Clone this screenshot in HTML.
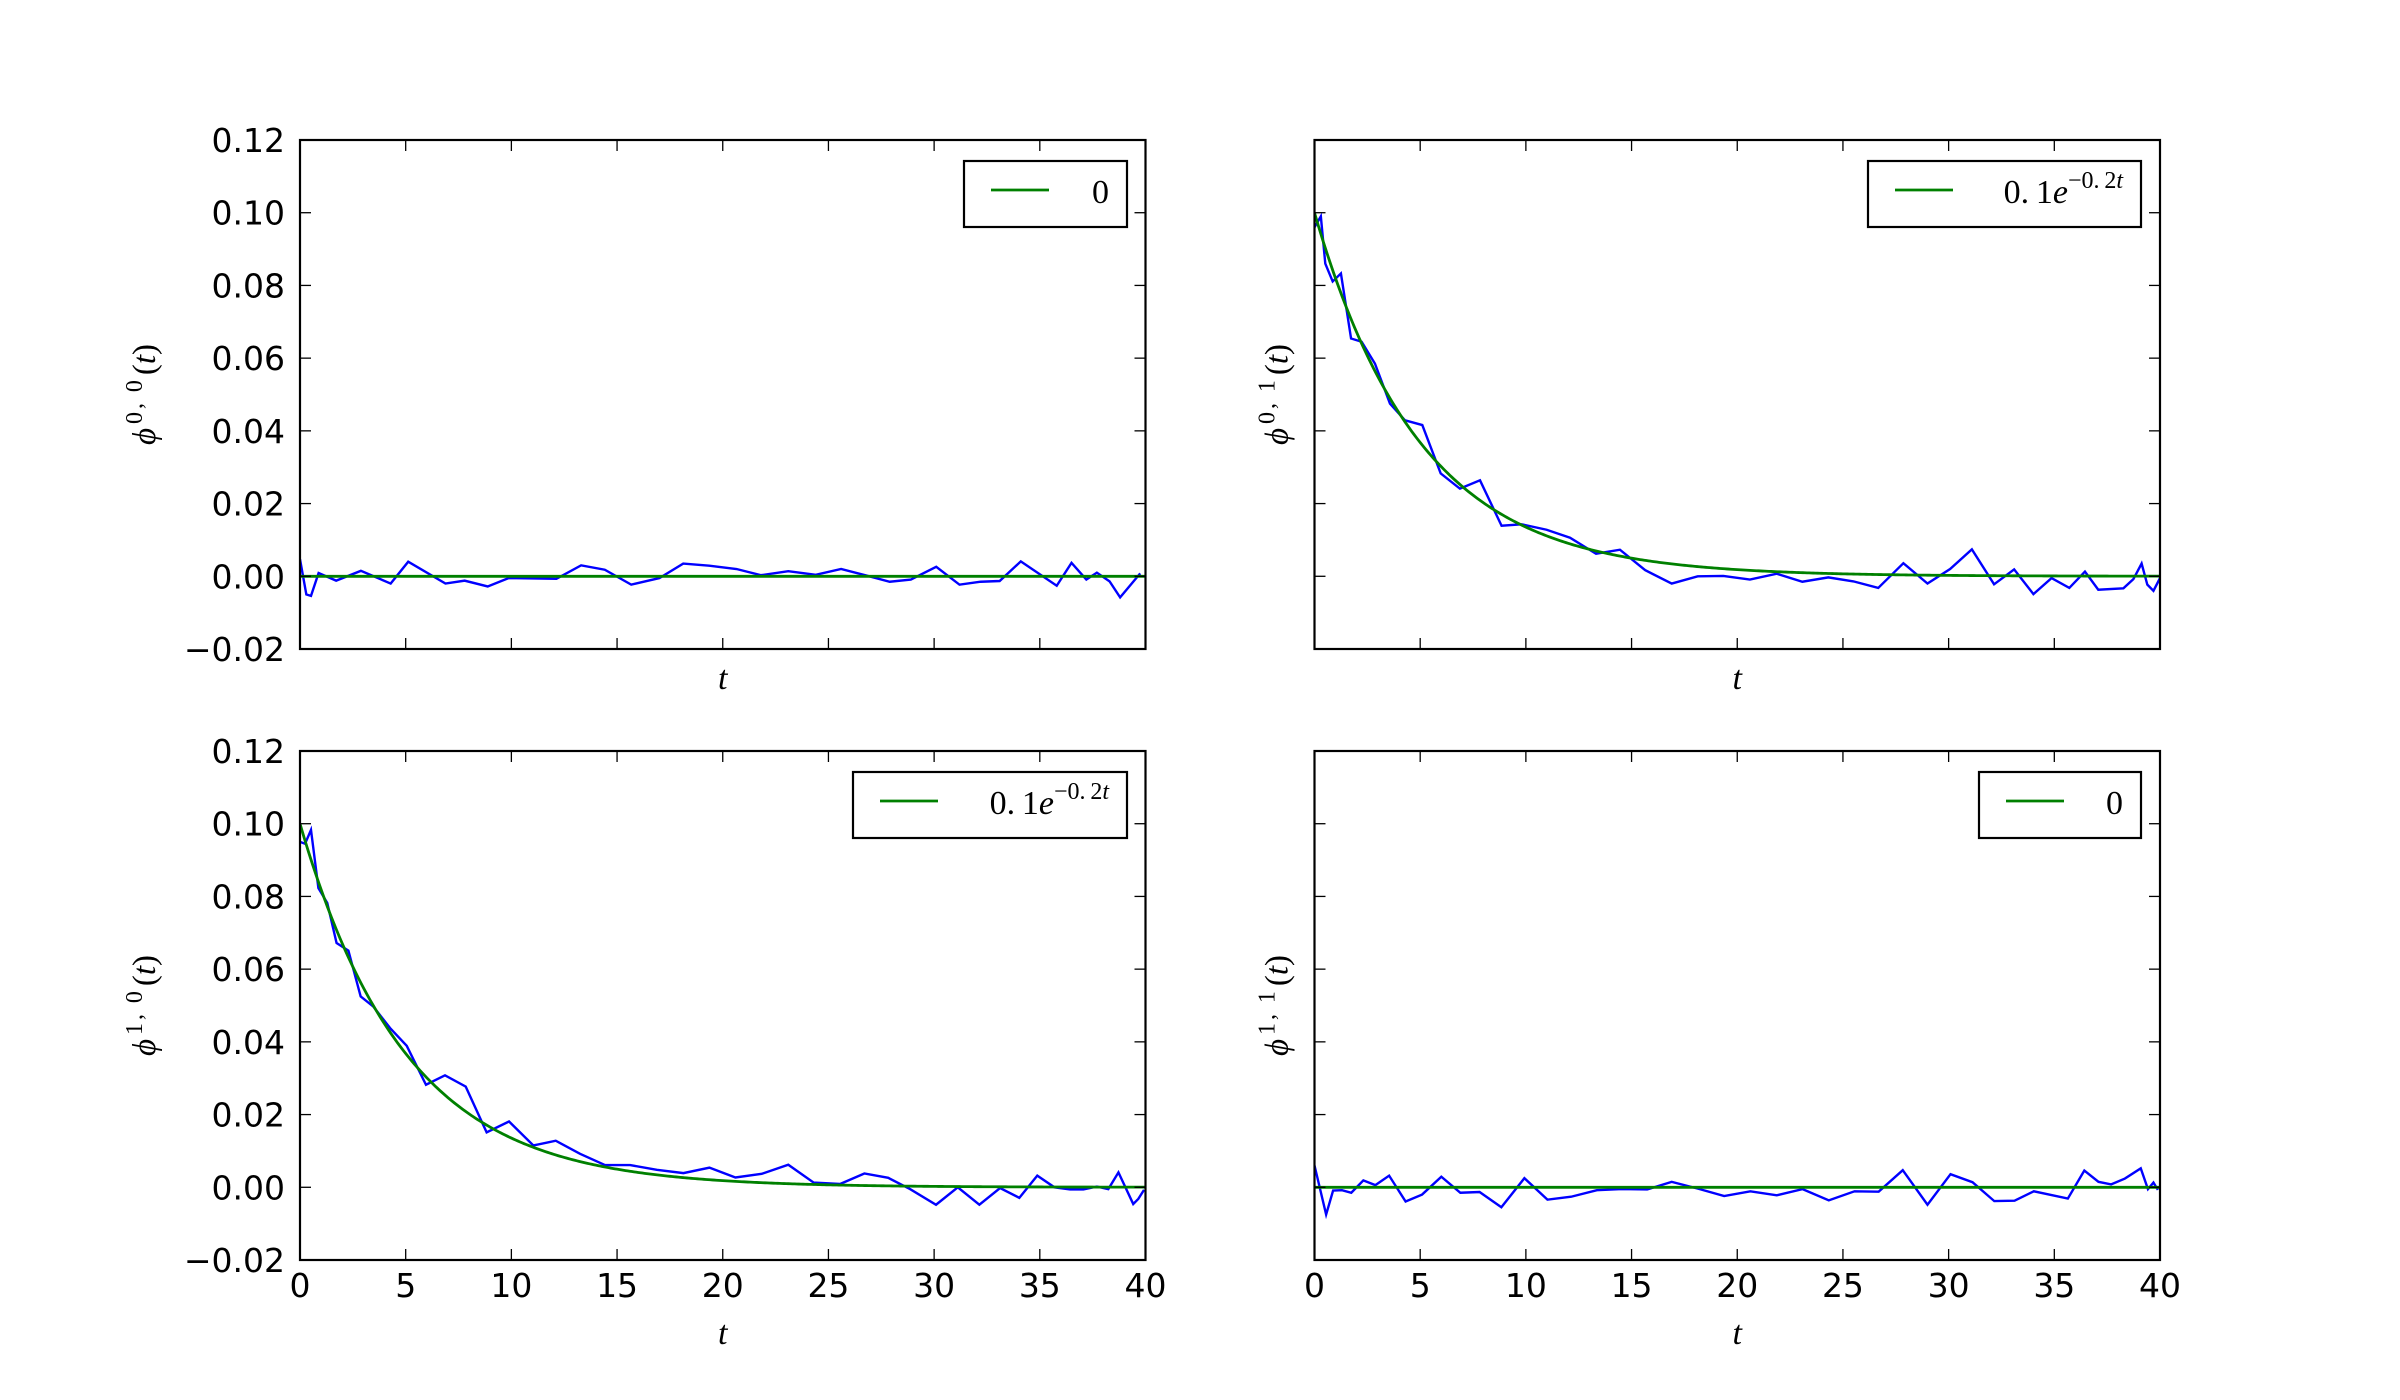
<!DOCTYPE html>
<html><head><meta charset="utf-8"><style>
html,body{margin:0;padding:0;background:#fff;}
svg{display:block;}
</style></head><body>
<svg id="fig" width="2400" height="1400" viewBox="0 0 2400 1400" xmlns="http://www.w3.org/2000/svg"></svg>
<script>
// ---- data ----
const xTicks = [0,5,10,15,20,25,30,35,40];
const yTicks = [-0.02,0,0.02,0.04,0.06,0.08,0.10,0.12];
const yTickLabels = ["\u22120.02","0.00","0.02","0.04","0.06","0.08","0.10","0.12"];
const xTickLabels = ["0","5","10","15","20","25","30","35","40"];

const t00 = [0,0.3,0.52,0.88,1.71,2.88,4.29,5.12,6.88,7.79,8.88,9.87,12.13,13.3,14.42,15.67,17.0,18.13,19.36,20.65,21.8,23.1,24.4,25.6,26.8,27.9,28.9,30.1,31.2,32.2,33.1,34.1,35.8,36.5,37.2,37.7,38.3,38.8,39.75];
const v00 = [0.0047,-0.005,-0.0054,0.0009,-0.0012,0.0015,-0.002,0.004,-0.002,-0.0012,-0.0028,-0.0005,-0.0007,0.003,0.0018,-0.0023,-0.0005,0.0035,0.0029,0.002,0.0003,0.0014,0.0004,0.002,0.0002,-0.0015,-0.0009,0.0026,-0.0023,-0.0015,-0.0013,0.0041,-0.0026,0.0037,-0.0009,0.001,-0.0014,-0.0058,0.0008];

const t01 = [0,0.3,0.51,0.86,1.25,1.73,2.23,2.86,3.57,4.28,5.1,5.97,6.88,7.83,8.85,9.8,10.98,12.09,13.32,14.45,15.64,16.9,18.13,19.34,20.6,21.87,23.08,24.31,25.5,26.67,27.86,29.0,30.07,31.1,32.15,33.1,34.01,34.87,35.71,36.45,37.08,38.27,38.74,39.13,39.4,39.69,40];
const v01 = [0.096,0.099,0.086,0.0811,0.0833,0.0654,0.0645,0.0585,0.0475,0.0429,0.0416,0.0283,0.0241,0.0264,0.0139,0.0143,0.0128,0.0106,0.0062,0.0073,0.0017,-0.002,0.0,0.0001,-0.0009,0.0007,-0.0015,-0.0003,-0.0014,-0.0032,0.0036,-0.002,0.002,0.0074,-0.0022,0.0019,-0.0049,-0.0005,-0.0032,0.0013,-0.0037,-0.0033,-0.0008,0.0035,-0.0023,-0.004,-0.0005];

const t10 = [0,0.24,0.52,0.87,1.29,1.73,2.29,2.87,3.47,4.26,5.05,5.96,6.86,7.84,8.83,9.89,11.04,12.1,13.25,14.43,15.62,16.88,18.14,19.37,20.6,21.84,23.1,24.3,25.55,26.7,27.83,28.86,30.09,31.12,32.14,33.12,34.03,34.88,35.69,36.43,37.06,37.7,38.24,38.72,39.42,39.66,39.93];
const v10 = [0.095,0.0945,0.0983,0.0823,0.0782,0.0672,0.0651,0.0525,0.0497,0.0438,0.0389,0.0282,0.0308,0.0277,0.0151,0.0181,0.0115,0.0128,0.0092,0.0061,0.0061,0.0048,0.0039,0.0054,0.0027,0.0037,0.0062,0.0013,0.0009,0.0038,0.0026,-0.0005,-0.0048,0.0,-0.0048,-0.0002,-0.0029,0.0032,0.0,-0.0006,-0.0006,0.0002,-0.0005,0.0041,-0.0046,-0.0032,-0.0007];

const t11 = [0,0.55,0.88,1.30,1.74,2.31,2.88,3.53,4.31,5.09,6.0,6.9,7.81,8.84,9.93,11.02,12.14,13.36,14.53,15.74,16.9,18.16,19.38,20.62,21.87,23.09,24.33,25.55,26.69,27.83,29.0,30.09,31.13,32.16,33.12,34.03,35.64,36.42,37.09,37.69,38.34,39.09,39.43,39.69,39.9];
const v11 = [0.006,-0.0075,-0.0009,-0.0008,-0.0015,0.0019,0.0006,0.0032,-0.0039,-0.002,0.0029,-0.0015,-0.0013,-0.0055,0.0025,-0.0034,-0.0026,-0.0008,-0.0005,-0.0006,0.0015,-0.0004,-0.0024,-0.0011,-0.0022,-0.0005,-0.0036,-0.0011,-0.0012,0.0047,-0.0048,0.0036,0.0014,-0.0038,-0.0037,-0.0011,-0.0031,0.0046,0.0015,0.0008,0.0024,0.0052,-0.0005,0.0013,-0.0007];

const fitAmp = [0, 0.1, 0.1, 0];
const fitRate = 0.2;

// ---- layout ----
const NS = "http://www.w3.org/2000/svg";
const svg = document.getElementById('fig');
function mk(tag, attrs, parent){const e=document.createElementNS(NS,tag);for(const k in attrs)e.setAttribute(k,attrs[k]);(parent||svg).appendChild(e);return e;}

const panels = [
  {x0:300,x1:1145.5,y0:140,y1:649,t:t00,v:v00,amp:fitAmp[0],lab:"0,\u20090",xl:false,yl:true,leg:[964,1127],name:"phi-00"},
  {x0:1314.5,x1:2160,y0:140,y1:649,t:t01,v:v01,amp:fitAmp[1],lab:"0,\u20091",xl:false,yl:false,leg:[1868,2141],name:"phi-01"},
  {x0:300,x1:1145.5,y0:751,y1:1260,t:t10,v:v10,amp:fitAmp[2],lab:"1,\u20090",xl:true,yl:true,leg:[853,1127],name:"phi-10"},
  {x0:1314.5,x1:2160,y0:751,y1:1260,t:t11,v:v11,amp:fitAmp[3],lab:"1,\u20091",xl:true,yl:false,leg:[1979,2141],name:"phi-11"}
];

panels.forEach((p,pi)=>{
  const g = mk('g',{});
  
  
  const sx = t => p.x0 + (t-0)/(40-0)*(p.x1-p.x0);
  const sy = v => p.y1 - (v-(-0.02))/(0.14)*(p.y1-p.y0);
  const clipId='clip'+pi;
  const cp=mk('clipPath',{id:clipId},g); mk('rect',{x:p.x0,y:p.y0,width:p.x1-p.x0,height:p.y1-p.y0},cp);
  let d=''; p.t.forEach((t,i)=>{d+=(i?'L':'M')+sx(t).toFixed(2)+','+sy(p.v[i]).toFixed(2);});
  const bl=mk('path',{d:d,fill:'none',stroke:'#0000ff','stroke-width':2.4,'stroke-linejoin':'miter','clip-path':'url(#'+clipId+')'},g);
  
  
  let fd=''; for(let i=0;i<=400;i++){const t=i*40/400; fd+=(i?'L':'M')+sx(t).toFixed(2)+','+sy(p.amp*Math.exp(-fitRate*t)).toFixed(2);}
  const gl=mk('path',{d:fd,fill:'none',stroke:'#008000','stroke-width':2.8,'clip-path':'url(#'+clipId+')'},g);
  
  
  xTicks.forEach((t,i)=>{
    const x=sx(t);
    mk('line',{x1:x,x2:x,y1:p.y1,y2:p.y1-11,stroke:'#000','stroke-width':1.3},g);
    mk('line',{x1:x,x2:x,y1:p.y0,y2:p.y0+11,stroke:'#000','stroke-width':1.3},g);
    if(p.xl){const tx=mk('text',{x:x,y:1297,'text-anchor':'middle','font-family':'DejaVu Sans, sans-serif','font-size':33},g);tx.textContent=xTickLabels[i];
      
      }
  });
  yTicks.forEach((v,i)=>{
    const y=sy(v);
    mk('line',{x1:p.x0,x2:p.x0+11,y1:y,y2:y,stroke:'#000','stroke-width':1.3},g);
    mk('line',{x1:p.x1,x2:p.x1-11,y1:y,y2:y,stroke:'#000','stroke-width':1.3},g);
    if(p.yl){const tx=mk('text',{x:285,y:y+12,'text-anchor':'end','font-family':'DejaVu Sans, sans-serif','font-size':33},g);tx.textContent=yTickLabels[i];
      
      }
  });
  const fr=mk('rect',{x:p.x0,y:p.y0,width:p.x1-p.x0,height:p.y1-p.y0,fill:'none',stroke:'#000','stroke-width':2.2},g);
  
  
  const xlab=mk('text',{x:(p.x0+p.x1)/2,y:p.y1+(p.xl?84:40),'text-anchor':'middle','font-family':'Liberation Serif, serif','font-style':'italic','font-size':34},g);
  xlab.textContent='t';
  
  
  const cy=(p.y0+p.y1)/2, lx=p.yl ? p.x0-145 : p.x0-27;
  const yl=mk('text',{x:0,y:0,'text-anchor':'middle','font-family':'Liberation Serif, serif','font-size':33,transform:'translate('+lx+','+cy+') rotate(-90)'},g);
  
  
  const a=mk('tspan',{'font-style':'italic'},yl); a.textContent='\u03D5';
  const b=mk('tspan',{'font-size':24,dy:-13,dx:4,'letter-spacing':3},yl); b.textContent=p.lab;
  const c=mk('tspan',{dy:13,dx:2},yl); c.textContent='(';
  const c2=mk('tspan',{'font-style':'italic'},yl); c2.textContent='t';
  const c3=mk('tspan',{},yl); c3.textContent=')';
  const ly0 = p.y0+21, ly1 = p.y0+87;
  const lg=mk('g',{},g);
  
  
  mk('rect',{x:p.leg[0],y:ly0,width:p.leg[1]-p.leg[0],height:ly1-ly0,fill:'#fff',stroke:'#000','stroke-width':2.2},lg);
  const lx0=p.leg[0]+27;
  const sw=mk('line',{x1:lx0,x2:lx0+58,y1:ly0+29,y2:ly0+29,stroke:'#008000','stroke-width':2.8},lg);
  
  
  const lt=mk('text',{x:p.leg[1]-18,y:ly0+42,'text-anchor':'end','font-family':'Liberation Serif, serif','font-size':34},lg);
  
  
  if(p.amp===0){ lt.textContent='0'; }
  else {
    const s1=mk('tspan',{},lt); s1.textContent='0.\u20091';
    const s2=mk('tspan',{'font-style':'italic'},lt); s2.textContent='e';
    const s3=mk('tspan',{'font-size':24,dy:-15},lt); s3.textContent='\u22120.\u20092';
    const s4=mk('tspan',{'font-size':24,'font-style':'italic'},lt); s4.textContent='t';
  }
});
</script>
</body></html>
